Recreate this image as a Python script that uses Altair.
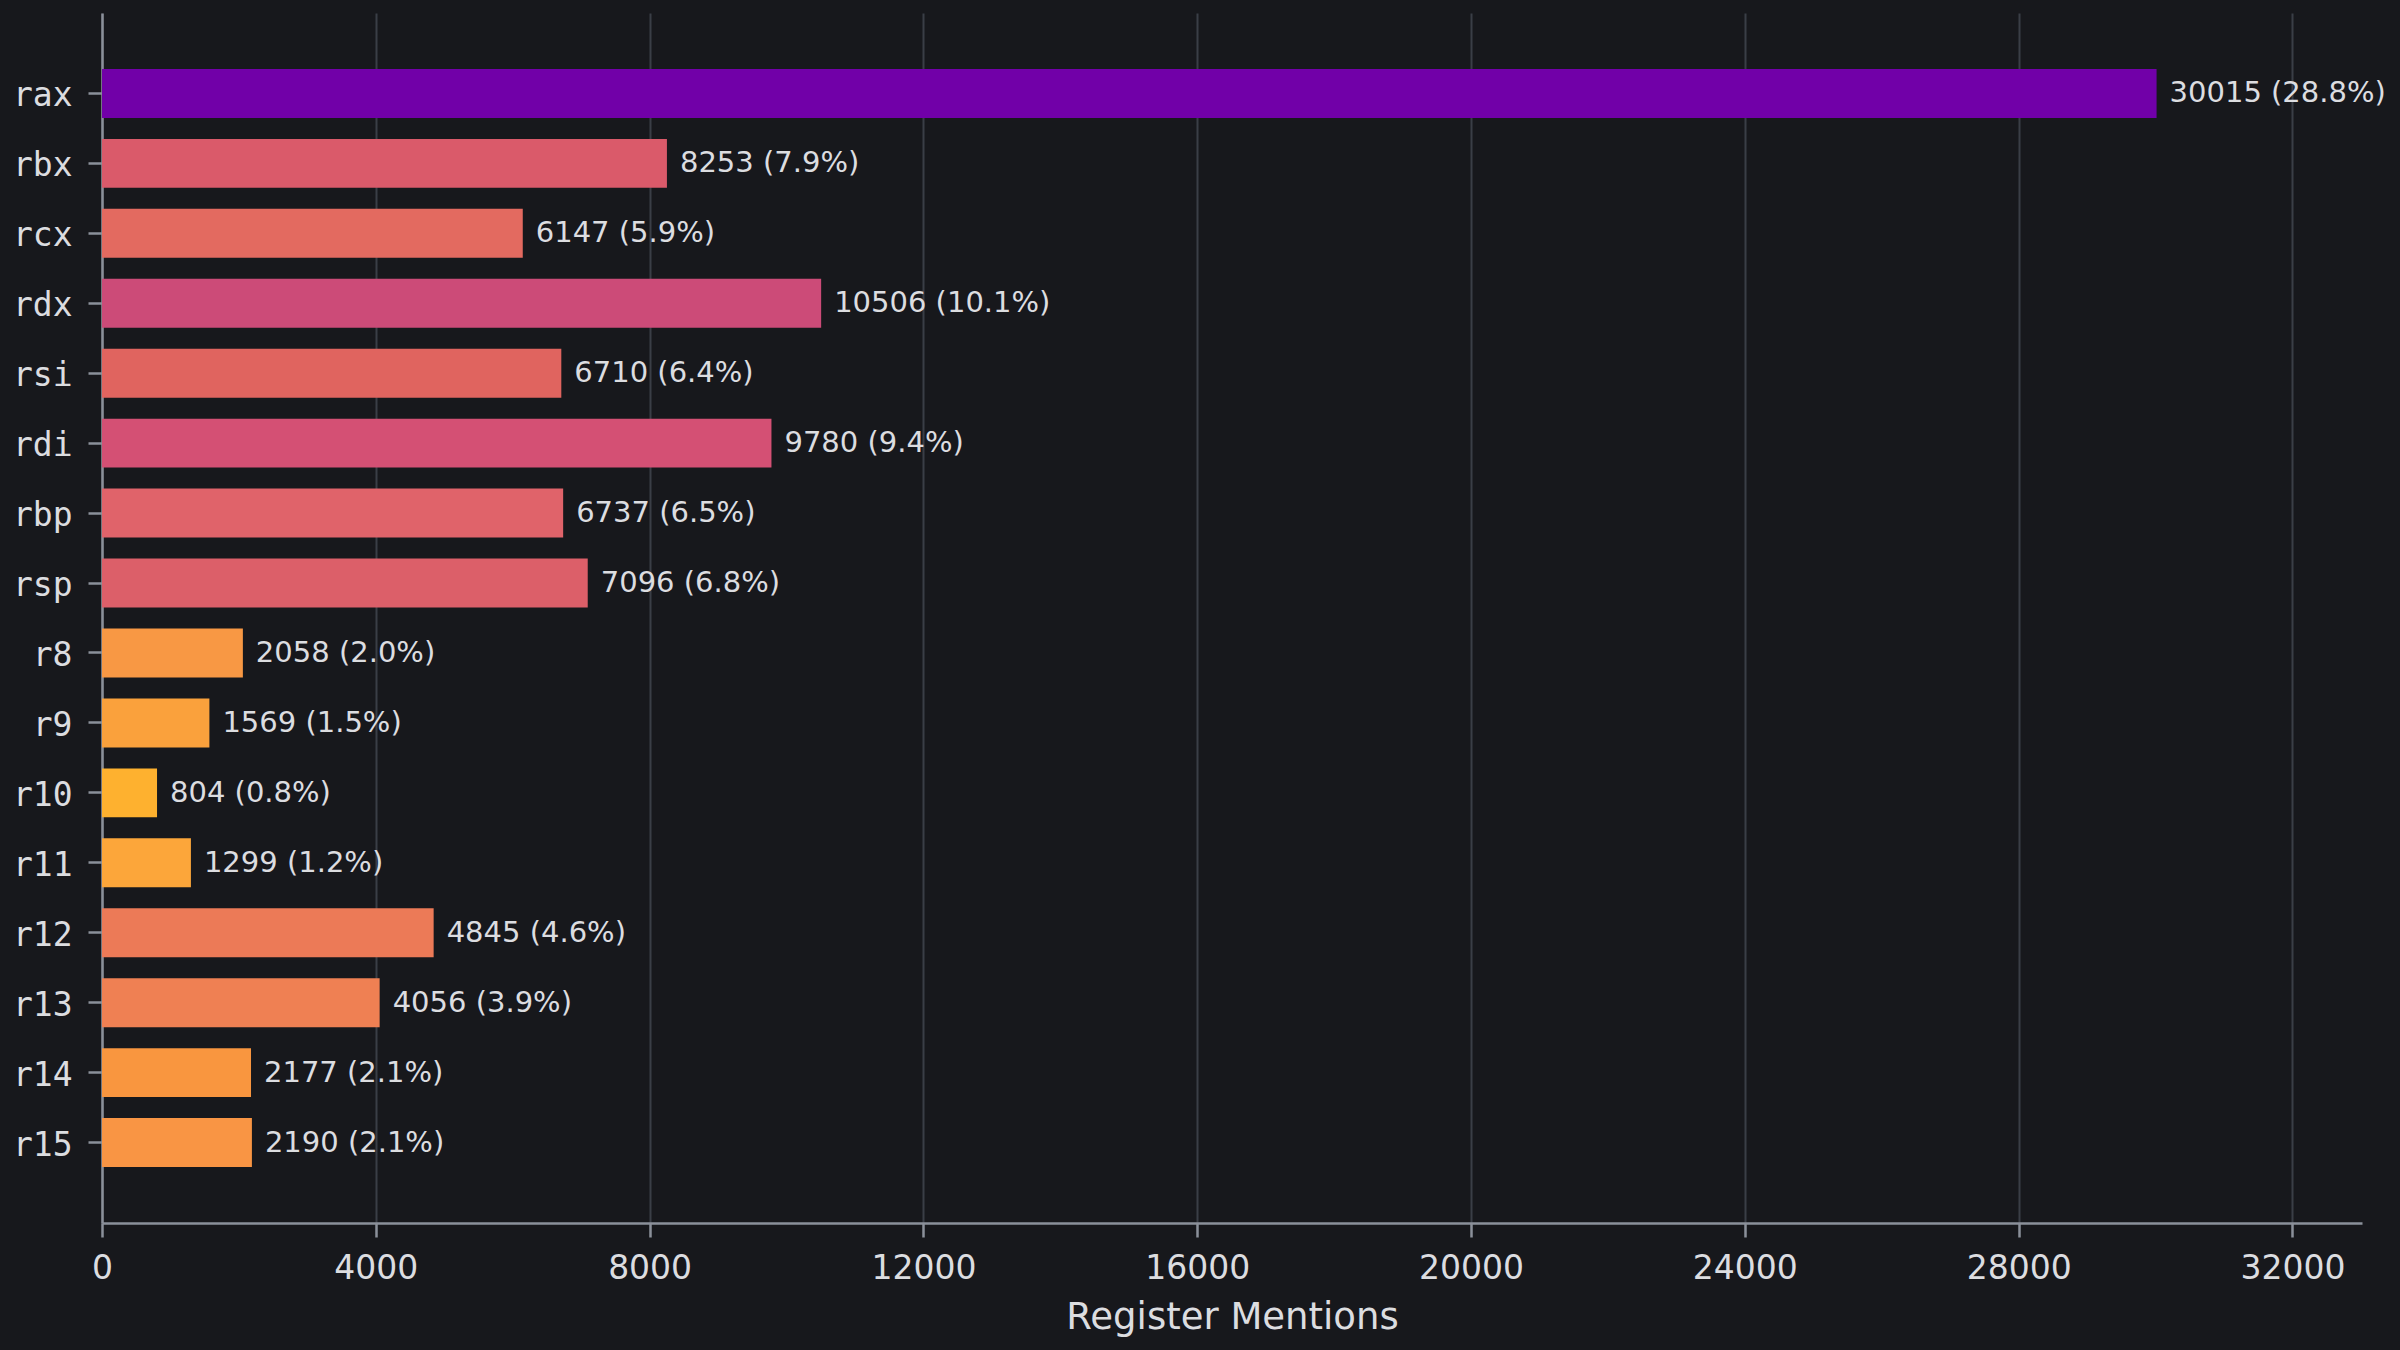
import altair as alt
import pandas as pd

registers = ["rax", "rbx", "rcx", "rdx", "rsi", "rdi", "rbp", "rsp",
             "r8", "r9", "r10", "r11", "r12", "r13", "r14", "r15"]
mentions = [30015, 8253, 6147, 10506, 6710, 9780, 6737, 7096,
            2058, 1569, 804, 1299, 4845, 4056, 2177, 2190]
bar_colors = ["#7100a8", "#da5a6a", "#e36a60", "#cc4b78", "#e0645f", "#d45074",
              "#e0636a", "#dc5f69", "#f89844", "#faa13c", "#feb12f", "#fca63a",
              "#ec7a57", "#ef8053", "#f9963f", "#f99544"]
x_ticks = [0, 4000, 8000, 12000, 16000, 20000, 24000, 28000, 32000]

total = sum(mentions)
df = pd.DataFrame({"register": registers, "mentions": mentions})
df["label"] = [f"{v} ({v / total * 100:.1f}%)" for v in mentions]

TEXT = "#dcdde0"
AXIS = "#8b909a"
GRID = "#3a3e46"
BG = "#17181c"

y_enc = alt.Y(
    "register:N",
    sort=registers,
    scale=alt.Scale(paddingInner=0.3, paddingOuter=0.8),
    axis=alt.Axis(
        title=None,
        labelFont="DejaVu Sans Mono",
        labelFontSize=33,
        labelColor=TEXT,
        labelPadding=16,
        labelOffset=3,
        tickSize=14,
        tickWidth=2.5,
        tickColor=AXIS,
        domainColor=AXIS,
        domainWidth=2.5,
        grid=False,
    ),
)

x_scale = alt.Scale(domain=[0, 33016], nice=False, zero=True)

bars = alt.Chart(df).mark_bar().encode(
    y=y_enc,
    x=alt.X(
        "mentions:Q",
        scale=x_scale,
        axis=alt.Axis(
            values=x_ticks,
            title="Register Mentions",
            titleFont="DejaVu Sans",
            titleFontSize=37,
            titleFontWeight="normal",
            titleColor=TEXT,
            titlePadding=14,
            labelFont="DejaVu Sans",
            labelFontSize=33,
            labelColor=TEXT,
            labelPadding=15,
            labelFlush=False,
            labelOverlap=False,
            tickSize=14,
            tickWidth=2.5,
            tickColor=AXIS,
            domainColor=AXIS,
            domainWidth=2.5,
            grid=True,
            gridColor=GRID,
            gridWidth=2,
            format="d",
        ),
    ),
    color=alt.Color("register:N", scale=alt.Scale(domain=registers, range=bar_colors), legend=None),
)

labels = alt.Chart(df).mark_text(
    align="left", baseline="middle", dx=13, font="DejaVu Sans", fontSize=29, color=TEXT
).encode(
    y=alt.Y("register:N", sort=registers),
    x=alt.X("mentions:Q", scale=x_scale),
    text="label:N",
)

chart = alt.layer(bars, labels).properties(
    width=2260,
    height=1210,
    background=BG,
    padding={"left": 102, "top": 13, "right": 38, "bottom": 127},
    autosize=alt.AutoSizeParams(type="none"),
).configure_view(stroke=None)

chart.save("out.html", embed_options={"renderer": "svg", "actions": False})
